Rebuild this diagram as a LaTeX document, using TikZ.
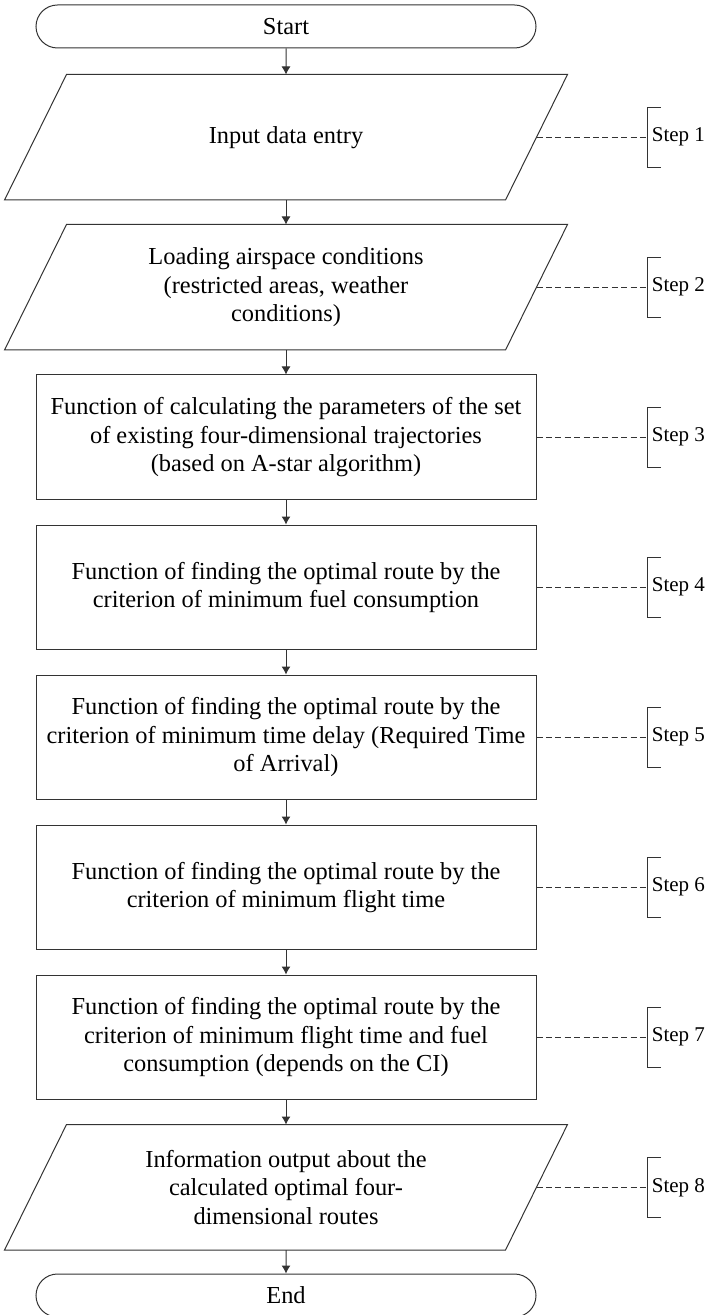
\documentclass[tikz,border=0pt]{standalone}
\usepackage{fontspec}
\setmainfont{Liberation Serif}
\usetikzlibrary{shapes.misc, positioning, arrows.meta}

\begin{document}
\begin{tikzpicture}[every node/.style={font=\fontsize{12.2}{14.2}\selectfont},
    terminal/.style={rounded rectangle, 
      draw=black!80, 
      line width=0.5pt, 
      minimum width=250pt, 
      minimum height=21.5pt, 
      inner sep=0pt},
    process/.style={rectangle, 
      draw=black!80, 
      line width=0.5pt, 
      minimum width=250pt, 
      minimum height=62.25pt, 
      align=center, 
      inner sep=0pt},
    io/.style={process, draw=none},
    slanted/.style={draw=black!80, line width=0.5pt, line join=miter},
    steplabel/.style={font=\fontsize{10.5}{12}\selectfont, 
      inner sep=2pt, 
      anchor=west},
    flow/.style={-{Latex[length=4pt,width=4.5pt]}, draw=black!80, line width=0.5pt},
    link/.style={draw=black!80, line width=0.45pt, dash pattern=on 3pt off 1.7pt},
    bracket/.style={draw=black!80, line width=0.5pt},
    node distance=12.25pt]

  \useasboundingbox (0,0) rectangle (358.5pt,-657.5pt);

  \node [terminal] (start) at (143pt,-13.25pt) {Start};

  \node [io, below=13pt of start] (input) {Input data entry};

  \node [io, below=of input] (airspace) {Loading airspace conditions\\
    (restricted areas, weather\\
    conditions)};

  \node [process, below=of airspace] (astar) {Function of calculating the parameters of the set\\
    of existing four-dimensional trajectories\\
    (based on A-star algorithm)};

  \node [process, below=of astar] (fuel) {Function of finding the optimal route by the\\
    criterion of minimum fuel consumption};

  \node [process, below=of fuel] (delay) {Function of finding the optimal route by the\\
    criterion of minimum time delay (Required Time\\
    of Arrival)};

  \node [process, below=of delay] (flighttime) {Function of finding the optimal route by the\\
    criterion of minimum flight time};

  \node [process, below=of flighttime] (costindex) {Function of finding the optimal route by the\\
    criterion of minimum flight time and fuel\\
    consumption (depends on the CI)};

  \node [io, below=of costindex] (output) {Information output about the\\
    calculated optimal four-\\
    dimensional routes};

  \node [terminal, below=11.75pt of output] (end) {End};

  % parallelograms round the io nodes
  \draw[slanted] ([xshift=15.5pt]input.north west) -- ([xshift=15.5pt]input.north east) 
  -- ([xshift=-15.5pt]input.south east) -- ([xshift=-15.5pt]input.south west) -- cycle;
  \draw[slanted] ([xshift=15.5pt]airspace.north west) -- ([xshift=15.5pt]airspace.north east) 
  -- ([xshift=-15.5pt]airspace.south east) -- ([xshift=-15.5pt]airspace.south west) -- cycle;
  \draw[slanted] ([xshift=15.5pt]output.north west) -- ([xshift=15.5pt]output.north east) 
  -- ([xshift=-15.5pt]output.south east) -- ([xshift=-15.5pt]output.south west) -- cycle;

  % main flow
  \draw[flow] (start) -- (input);
  \draw[flow] (input) -- (airspace);
  \draw[flow] (airspace) -- (astar);
  \draw[flow] (astar) -- (fuel);
  \draw[flow] (fuel) -- (delay);
  \draw[flow] (delay) -- (flighttime);
  \draw[flow] (flighttime) -- (costindex);
  \draw[flow] (costindex) -- (output);
  \draw[flow] (output) -- (end);

  % step labels
  \node [steplabel, right=55.5pt of input.east] (step1) {Step 1};
  \node [steplabel, right=55.5pt of airspace.east] (step2) {Step 2};
  \node [steplabel, right=55.5pt of astar.east] (step3) {Step 3};
  \node [steplabel, right=55.5pt of fuel.east] (step4) {Step 4};
  \node [steplabel, right=55.5pt of delay.east] (step5) {Step 5};
  \node [steplabel, right=55.5pt of flighttime.east] (step6) {Step 6};
  \node [steplabel, right=55.5pt of costindex.east] (step7) {Step 7};
  \node [steplabel, right=55.5pt of output.east] (step8) {Step 8};

  \draw[link] (input.east) -- (step1.west);
  \draw[link] (airspace.east) -- (step2.west);
  \draw[link] (astar.east) -- (step3.west);
  \draw[link] (fuel.east) -- (step4.west);
  \draw[link] (delay.east) -- (step5.west);
  \draw[link] (flighttime.east) -- (step6.west);
  \draw[link] (costindex.east) -- (step7.west);
  \draw[link] (output.east) -- (step8.west);

  \draw[bracket] ([xshift=6.5pt,yshift=15pt]step1.west) -| ([yshift=-15pt]step1.west) -- ++(6.5pt,0);
  \draw[bracket] ([xshift=6.5pt,yshift=15pt]step2.west) -| ([yshift=-15pt]step2.west) -- ++(6.5pt,0);
  \draw[bracket] ([xshift=6.5pt,yshift=15pt]step3.west) -| ([yshift=-15pt]step3.west) -- ++(6.5pt,0);
  \draw[bracket] ([xshift=6.5pt,yshift=15pt]step4.west) -| ([yshift=-15pt]step4.west) -- ++(6.5pt,0);
  \draw[bracket] ([xshift=6.5pt,yshift=15pt]step5.west) -| ([yshift=-15pt]step5.west) -- ++(6.5pt,0);
  \draw[bracket] ([xshift=6.5pt,yshift=15pt]step6.west) -| ([yshift=-15pt]step6.west) -- ++(6.5pt,0);
  \draw[bracket] ([xshift=6.5pt,yshift=15pt]step7.west) -| ([yshift=-15pt]step7.west) -- ++(6.5pt,0);
  \draw[bracket] ([xshift=6.5pt,yshift=15pt]step8.west) -| ([yshift=-15pt]step8.west) -- ++(6.5pt,0);

\end{tikzpicture}
\end{document}
